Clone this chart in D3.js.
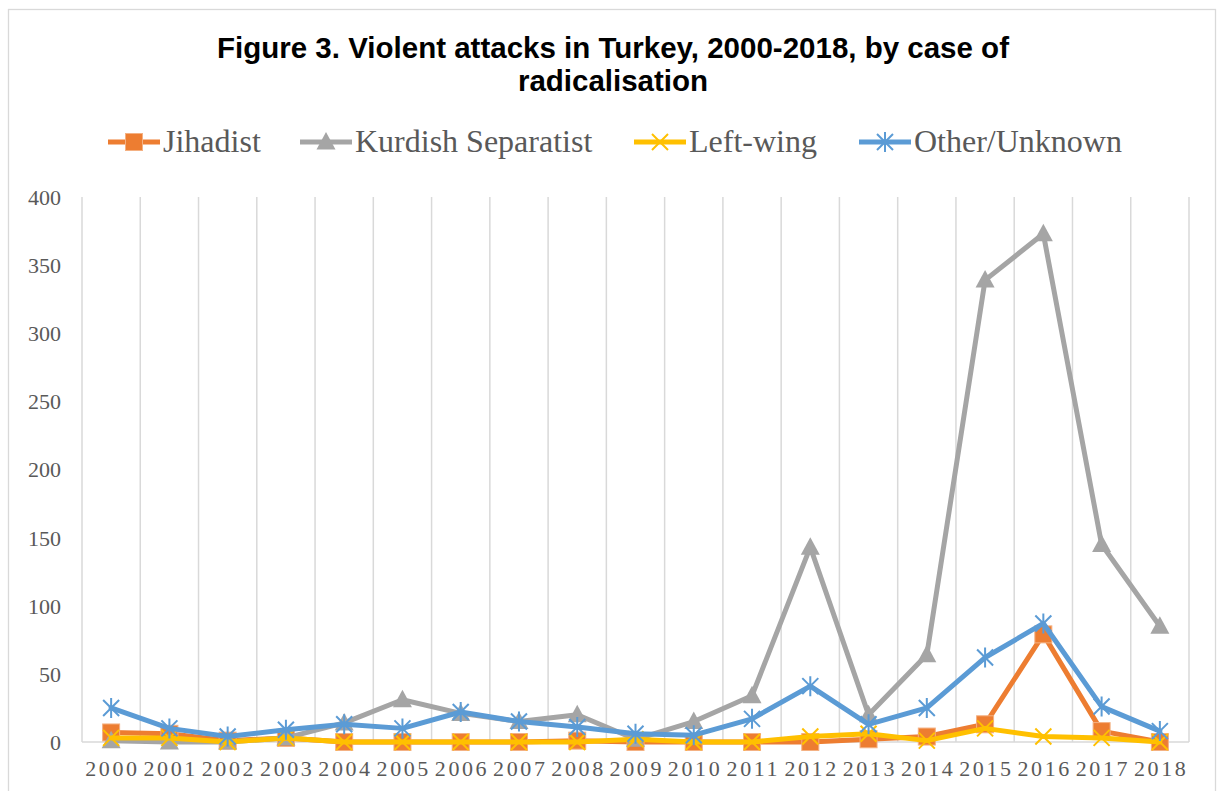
<!DOCTYPE html>
<html>
<head>
<meta charset="utf-8">
<script src="https://cdn.jsdelivr.net/npm/d3@7"></script>
<style>
  html, body { margin: 0; padding: 0; background: #fff; }
  svg { display: block; }
</style>
</head>
<body>
<svg id="chart" width="1217" height="791"></svg>
<script>
// Yearly counts of violent attacks by case of radicalisation
const years = ["2000","2001","2002","2003","2004","2005","2006","2007","2008","2009",
               "2010","2011","2012","2013","2014","2015","2016","2017","2018"];
const jihadist   = [7, 6, 1, 3, 0, 0, 0, 0, 1, 0, 0, 0, 0, 2, 4, 13, 79, 8, 0];
const kurdish    = [1, 0, 0, 3, 14, 31, 21, 15, 20, 2, 15, 34, 143, 20, 64, 339, 373, 145, 85];
const leftWing   = [3, 3, 0, 3, 0, 0, 0, 0, 0, 2, 0, 0, 4, 6, 1, 10, 4, 3, 0];
const otherUnk   = [25, 10, 4, 9, 13, 10, 22, 15, 11, 6, 5, 17, 41, 13, 25, 62, 87, 26, 8];
const yTicks     = [0, 50, 100, 150, 200, 250, 300, 350, 400];

const seriesNames = ["Jihadist", "Kurdish Separatist", "Left-wing", "Other/Unknown"];
const seriesData  = [jihadist, kurdish, leftWing, otherUnk];
const colors      = ["#ED7D31", "#A5A5A5", "#FFC000", "#5B9BD5"];
const markerTypes = ["square", "triangle", "x", "star"];

const svg = d3.select("#chart");
const plot = { left: 82, right: 1189, top: 197, bottom: 742 };

// Outer frame
svg.append("rect")
  .attr("x", 8.5).attr("y", 9.5)
  .attr("width", 1207).attr("height", 800)
  .attr("fill", "#fff").attr("stroke", "#D9D9D9").attr("stroke-width", 1.3);

// Title
const title = svg.append("text")
  .attr("text-anchor", "middle")
  .attr("font-family", "Arial, 'Liberation Sans', sans-serif")
  .attr("font-weight", "bold")
  .attr("font-size", 29.5)
  .attr("fill", "#000");
title.append("tspan").attr("x", 613).attr("y", 58)
  .text("Figure 3. Violent attacks in Turkey, 2000-2018, by case of");
title.append("tspan").attr("x", 613).attr("y", 91)
  .text("radicalisation");

const x = d3.scaleBand().domain(years).range([plot.left, plot.right]).padding(0);
const y = d3.scaleLinear().domain([0, 400]).range([plot.bottom, plot.top]);
const cx = d => x(d) + x.bandwidth() / 2;

// Vertical gridlines at category boundaries
const bounds = years.map(d => x(d)).concat([plot.right]);
svg.append("g").selectAll("line").data(bounds).join("line")
  .attr("x1", d => d).attr("x2", d => d)
  .attr("y1", plot.top).attr("y2", plot.bottom)
  .attr("stroke", "#D9D9D9").attr("stroke-width", 1.5);

// Horizontal axis line
svg.append("line")
  .attr("x1", plot.left).attr("x2", plot.right)
  .attr("y1", plot.bottom).attr("y2", plot.bottom)
  .attr("stroke", "#D9D9D9").attr("stroke-width", 1.5);

// Y axis labels
const yAxis = d3.axisLeft(y).tickValues(yTicks).tickSize(0).tickPadding(0);
const gy = svg.append("g").attr("transform", `translate(${plot.left - 21},0)`).call(yAxis);
gy.select(".domain").remove();
gy.selectAll("text")
  .attr("font-family", "'Liberation Serif', 'Times New Roman', serif")
  .attr("font-size", 22)
  .attr("fill", "#595959")
  .attr("dy", "0.34em");

// X axis labels
const spacing = 2.6;
const xAxis = d3.axisBottom(x).tickSize(0).tickPadding(0);
const gx = svg.append("g").attr("transform", `translate(0,${plot.bottom})`).call(xAxis);
gx.select(".domain").remove();
gx.selectAll("text")
  .attr("font-family", "'Liberation Serif', 'Times New Roman', serif")
  .attr("font-size", 22)
  .attr("fill", "#595959")
  .attr("letter-spacing", spacing)
  .attr("dx", spacing / 2)
  .attr("y", 34)
  .attr("dy", 0);

// Marker drawing
function drawMarker(g, type, color, px, py) {
  if (type === "square") {
    g.append("rect").attr("x", px - 8.5).attr("y", py - 8.5)
      .attr("width", 17).attr("height", 17)
      .attr("fill", color).attr("stroke", "#F4B183").attr("stroke-width", 1);
  } else if (type === "triangle") {
    g.append("path")
      .attr("d", `M${px},${py - 10} L${px + 9.5},${py + 7.5} L${px - 9.5},${py + 7.5} Z`)
      .attr("fill", color);
  } else if (type === "x") {
    const s = 8;
    g.append("path")
      .attr("d", `M${px - s},${py - s} L${px + s},${py + s} M${px - s},${py + s} L${px + s},${py - s}`)
      .attr("stroke", color).attr("stroke-width", 2).attr("fill", "none");
  } else if (type === "star") {
    const s = 8, v = 10;
    g.append("path")
      .attr("d", `M${px - s},${py - s} L${px + s},${py + s} M${px - s},${py + s} L${px + s},${py - s} M${px},${py - v} L${px},${py + v}`)
      .attr("stroke", color).attr("stroke-width", 2).attr("fill", "none");
  }
}

// Series lines and markers
const line = d3.line().x((d, i) => cx(years[i])).y(d => y(d));
seriesData.forEach((vals, k) => {
  const g = svg.append("g");
  g.append("path").datum(vals)
    .attr("d", line)
    .attr("fill", "none")
    .attr("stroke", colors[k])
    .attr("stroke-width", 5)
    .attr("stroke-linejoin", "round")
    .attr("stroke-linecap", "round");
  vals.forEach((v, i) => drawMarker(g, markerTypes[k], colors[k], cx(years[i]), y(v)));
});

// Legend
const legendX = [108, 300, 634, 859];
const legendY = 142;
const legend = svg.append("g");
seriesNames.forEach((name, k) => {
  const lx = legendX[k];
  legend.append("line")
    .attr("x1", lx).attr("x2", lx + 52)
    .attr("y1", legendY).attr("y2", legendY)
    .attr("stroke", colors[k]).attr("stroke-width", 5);
  drawMarker(legend, markerTypes[k], colors[k], lx + 26, legendY);
  legend.append("text")
    .attr("x", lx + 55).attr("y", legendY + 10)
    .attr("font-family", "'Liberation Serif', 'Times New Roman', serif")
    .attr("font-size", 32)
    .attr("fill", "#595959")
    .text(name);
});
</script>
</body>
</html>
